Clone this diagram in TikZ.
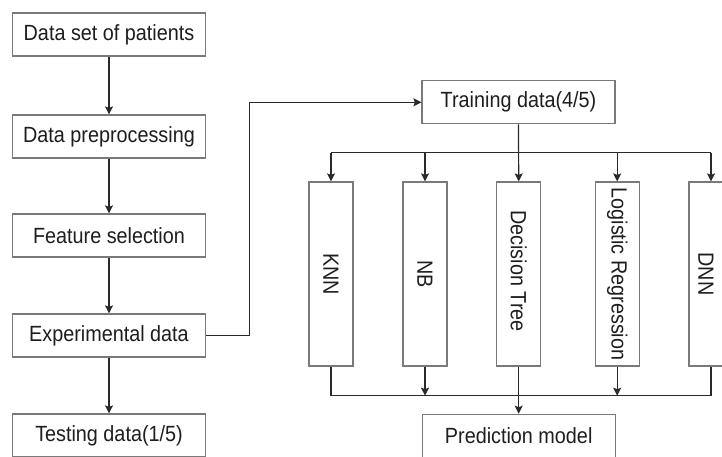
\documentclass[tikz,border=0pt]{standalone}
\usepackage{fontspec}
\setmainfont{Liberation Sans}[FakeStretch=0.9]
\usetikzlibrary{arrows.meta}
\definecolor{boxline}{HTML}{7A7A7A}
\definecolor{wire}{HTML}{2A2A2A}
\definecolor{ink}{HTML}{1E1E1E}
\tikzset{
  stepbox/.style={draw=boxline, line width=1.2pt, fill=white, text=ink,
    minimum width=193pt, minimum height=43pt, inner sep=0pt,
    font=\fontsize{22}{26}\selectfont},
  modelbox/.style={draw=boxline, line width=1.2pt, fill=white, text=ink,
    minimum width=44pt, minimum height=184pt, inner sep=0pt},
  modeltext/.style={text=ink, rotate=-90, inner sep=0pt,
    font=\fontsize{22}{26}\selectfont},
  wireline/.style={draw=wire, line width=1.2pt},
  arrowline/.style={wireline, -{Stealth[length=8pt, width=8pt, inset=1.5pt]}}
}
\begin{document}
\begin{tikzpicture}[x=1pt, y=-1pt]
\useasboundingbox (0,0) rectangle (722,456);

% left-hand pipeline
\node[stepbox] (patients) at (109,34.5)  {Data set of patients};
\node[stepbox] (prep)     at (109,136.5) {Data preprocessing};
\node[stepbox] (feat)     at (109,235.5) {Feature selection};
\node[stepbox] (exp)      at (109,335.5) {Experimental data};
\node[stepbox] (test)     at (109,435.5) {Testing data(1/5)};

% training branch
\node[stepbox] (train) at (518.5,102.3) {Training data(4/5)};
\node[stepbox] (pred)  at (518.7,435.8) {Prediction model};

% classifier columns
\node[modelbox] (knn) at (331,274)   {};
\node[modelbox] (nb)  at (425,274)   {};
\node[modelbox] (dt)  at (518.7,274) {};
\node[modelbox] (lr)  at (617.2,274) {};
\node[modelbox] (dnn) at (711,274)   {};
\node[modeltext] (knnt) at (knn) {KNN};
\node[modeltext] (nbt)  at (nb)  {NB};
\node[modeltext] (dtt)  at (518.7,271) {Decision Tree};
\node[modeltext] (lrt)  at (lr)  {Logistic Regression};
\node[modeltext] (dnnt) at (706,274) {DNN};

% bus levels
\coordinate (bus) at (0,152.7);
\coordinate (bot) at (0,395.7);

% left-hand arrows
\draw[arrowline] (patients) -- (prep);
\draw[arrowline] (prep) -- (feat);
\draw[arrowline] (feat) -- (exp);
\draw[arrowline] (exp) -- (test);

% experimental data to training data
\draw[arrowline] (exp.east) -- ++(43,0) |- (train.west);

% training data to the classifiers
\draw[wireline] (knn.north |- bus) -- (dnn.north |- bus);
\draw[arrowline] (train.south) -- (dt.north);
\draw[arrowline] (knn.north |- bus) -- (knn.north);
\draw[arrowline] (nb.north |- bus) -- (nb.north);
\draw[arrowline] (lr.north |- bus) -- (lr.north);
\draw[arrowline] (dnn.north |- bus) -- (dnn.north);

% classifiers to the prediction model
\draw[wireline] (knn.south) -- (knn.south |- bot) -- (dnn.south |- bot) -- (dnn.south);
\draw[arrowline] (nb.south) -- (nb.south |- bot);
\draw[arrowline] (lr.south) -- (lr.south |- bot);
\draw[arrowline] (dt.south) -- (pred.north);
\end{tikzpicture}
\end{document}
